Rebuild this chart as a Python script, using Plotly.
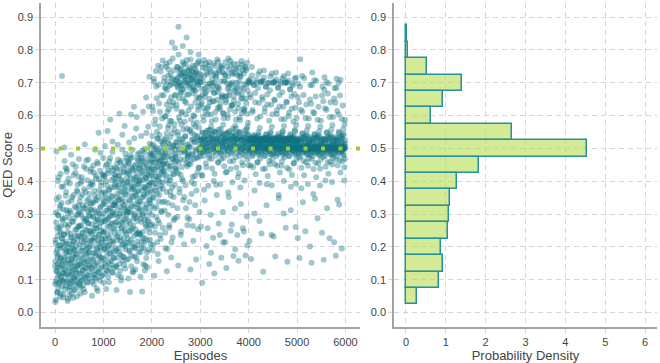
import plotly.graph_objects as go

# ---------------- data ----------------
# QED score per sampled episode, in thousandths, grouped in 250-episode blocks (50 values each).
# Set A: episodes 0, 5, 10, ...
qed_blocks_a = [
    "142 032 221 305 094 182 491 125 258 061 171 401 138 296 204 088 352 113 247 156 318 048 195 423 163 264 101 334 226 721 097 281 147 213 384 055 119 238 503 168 289 131 209 441 082 191 367 312 396 437",
    "117 244 035 303 159 199 408 078 268 134 311 052 186 089 229 152 481 096 341 207 166 277 122 452 044 216 173 358 104 193 288 141 068 235 426 108 178 319 127 253 372 091 222 389 145 299 261 414 326 468",
    "206 084 338 148 263 057 394 118 231 297 171 412 188 099 359 242 129 316 071 445 214 154 279 512 106 223 368 137 286 463 179 327 093 251 403 162 197 308 112 272 346 143 383 185 293 218 429 246 331 437",
    "313 133 241 051 398 203 292 158 448 336 086 228 371 115 257 496 181 344 102 417 266 307 146 192 459 284 066 219 353 124 548 237 406 174 301 198 432 109 322 249 386 167 211 364 139 276 421 224 329 471",
    "245 091 337 416 196 278 507 149 363 226 399 072 311 187 452 128 285 553 234 425 108 345 205 371 461 262 136 294 588 179 319 443 217 157 356 382 271 489 303 121 434 211 328 408 166 254 298 391 332 419",
    "326 143 409 194 069 351 453 231 291 511 114 386 267 343 418 183 606 302 436 127 368 219 462 098 276 401 256 334 542 158 393 207 317 444 169 283 427 243 379 362 134 484 201 309 471 238 297 397 321 431",
    "398 226 313 104 454 279 518 186 421 339 063 469 251 305 603 141 384 356 212 437 495 122 322 378 264 406 627 171 296 446 199 364 131 413 288 561 239 429 348 156 391 205 482 331 463 244 372 402 318 441",
    "403 241 312 109 456 286 538 197 426 351 064 471 228 303 612 147 383 359 213 441 499 128 321 377 268 411 655 166 294 448 184 367 138 418 277 566 256 433 342 389 718 514 221 333 463 487 374 396 479 437",
    "422 297 538 189 456 614 478 349 712 407 112 497 262 436 588 371 503 392 689 322 468 551 214 443 529 281 752 414 157 484 637 358 399 567 236 462 734 309 521 386 662 429 491 336 449 768 378 512 473 418",
    "703 431 527 311 687 461 197 597 489 749 403 546 126 678 454 612 334 518 722 394 571 258 643 477 763 412 369 534 695 447 168 583 502 823 381 629 229 711 467 509 352 738 421 558 287 661 483 439 496 472",
    "697 433 621 508 713 291 748 549 684 143 871 457 594 702 365 528 741 486 667 419 691 247 608 572 726 406 679 519 812 342 652 757 494 208 733 466 581 707 537 388 719 318 638 501 769 561 446 266 471 479",
    "699 452 616 504 722 284 744 552 683 131 794 463 588 709 361 527 736 483 668 414 688 219 601 574 716 392 677 520 541 327 641 753 491 162 729 470 579 703 533 428 694 254 628 498 766 563 441 511 655 476",
    "701 527 486 262 724 503 639 529 091 417 510 702 548 477 584 718 531 493 341 683 526 514 668 455 759 501 203 537 489 622 726 528 506 386 697 556 481 148 651 518 741 533 497 298 603 567 468 522 542 439",
    "699 528 487 228 725 502 644 530 119 423 512 700 551 478 588 721 532 495 358 686 526 516 671 459 764 499 271 539 491 626 732 527 508 391 703 559 483 167 657 519 746 535 505 306 609 572 471 523 545 446",
    "704 529 488 214 723 503 647 530 136 428 511 698 549 479 593 719 531 492 352 688 526 515 673 461 767 500 249 538 484 631 731 527 507 397 701 561 496 172 659 517 743 534 521 317 612 569 473 524 543 442",
    "700 530 486 236 722 501 636 532 158 424 509 702 547 476 586 717 533 490 331 684 526 513 666 458 756 498 257 536 482 619 728 528 504 402 696 554 494 174 652 516 738 529 520 293 606 566 466 524 541 449",
    "701 527 484 218 502 709 529 494 655 512 163 526 499 748 530 476 617 519 443 528 504 694 541 488 302 531 514 669 497 421 525 506 700 533 491 591 522 457 536 501 726 549 480 638 509 395 562 517 469 524",
    "702 528 485 241 503 706 530 495 649 513 124 525 500 737 529 477 611 518 438 527 505 688 543 489 327 532 511 664 498 416 526 507 699 534 492 584 521 452 537 501 719 551 481 633 510 388 566 516 466 523",
    "700 529 483 232 502 703 531 493 646 512 171 525 499 731 528 476 605 517 447 527 505 686 545 487 348 532 510 662 496 427 526 508 697 535 490 589 520 461 539 500 714 553 479 627 503 401 568 515 472 524",
    "699 528 486 258 501 701 530 494 641 511 155 525 499 728 529 478 598 516 436 527 504 681 544 489 312 531 509 658 497 419 526 506 692 533 492 582 522 455 538 500 712 556 482 624 502 393 571 514 467 519",
    "500 529 485 227 501 698 502 494 641 509 166 526 499 772 531 477 618 518 441 500 503 721 546 488 336 533 507 663 496 418 528 501 502 536 491 592 521 458 540 498 504 555 481 512 505 392 568 515 469 523",
    "500 529 484 201 501 693 502 493 636 508 152 525 499 731 530 476 611 517 437 500 503 708 544 487 347 532 506 658 495 412 527 501 502 535 490 587 520 454 539 497 504 552 480 511 500 387 566 514 466 524",
    "500 528 486 243 501 689 502 494 644 507 161 526 499 717 530 477 622 516 444 500 503 702 548 489 318 533 505 667 496 423 527 501 502 537 492 596 519 459 542 498 504 557 482 510 500 398 571 513 471 522",
    "500 529 483 214 501 684 502 493 639 508 173 525 499 712 531 476 614 517 448 500 503 699 551 487 329 534 506 661 495 427 527 501 502 538 490 589 521 461 543 497 504 559 479 511 500 402 573 514 468 524",
]
# Set B: episodes 2, 7, 12, ...
qed_blocks_b = [
    "087 156 212 039 274 128 345 102 191 063 233 149 298 074 176 412 118 259 091 205 137 327 058 168 244 109 383 143 226 081 286 121 199 046 314 159 097 237 133 462 071 183 268 115 356 151 216 093 429 187",
    "173 098 261 042 336 147 209 112 288 067 184 393 126 241 079 305 162 116 229 058 351 138 196 094 277 153 418 107 218 071 189 323 132 252 085 444 166 203 121 297 049 177 368 141 235 103 264 158 311 089",
    "231 119 304 076 188 352 142 267 098 215 401 164 243 127 326 083 198 287 151 376 109 229 062 317 176 254 135 438 193 281 114 209 341 157 272 091 237 466 183 298 124 361 202 146 249 104 313 171 392 221",
    "268 137 333 094 219 389 161 294 117 247 426 182 312 143 357 106 228 279 174 408 129 256 073 341 197 283 153 453 211 302 121 236 372 169 261 097 318 487 189 274 134 397 224 158 291 112 347 205 419 243",
    "302 163 367 118 248 414 193 331 142 281 447 214 349 171 386 126 263 311 202 432 154 289 092 376 229 318 181 471 246 338 147 271 403 196 296 123 353 521 219 306 166 423 257 184 327 137 381 238 441 274",
    "336 188 397 139 276 437 221 362 167 312 466 243 381 196 416 148 293 344 229 456 176 321 108 404 258 349 207 497 273 367 171 301 428 224 327 146 384 568 251 338 193 448 286 212 358 161 411 266 463 305",
    "371 212 426 163 307 458 248 391 189 343 479 272 408 221 441 173 324 376 256 472 201 352 126 433 287 381 234 531 302 397 196 331 451 252 356 168 413 596 279 367 217 468 316 239 389 184 437 296 486 338",
    "398 237 448 184 336 471 276 418 214 372 493 298 432 246 461 197 353 404 283 486 226 381 143 455 316 409 262 547 331 423 221 361 468 281 386 191 439 628 307 396 243 482 344 267 416 207 458 324 509 368",
    "441 268 627 352 483 206 512 394 703 427 317 469 574 243 458 381 736 414 291 497 653 362 446 532 178 406 488 694 338 459 272 541 421 612 376 464 224 502 437 748 306 473 591 396 452 258 519 434 662 478",
    "452 716 338 597 486 243 682 531 419 758 367 634 503 193 703 474 562 298 741 446 619 514 266 691 437 584 402 727 356 656 492 214 712 468 546 327 774 423 641 507 281 698 459 573 389 806 478 663 517 441",
    "706 461 633 522 748 318 689 541 716 424 786 497 652 731 377 584 699 467 724 236 671 512 743 443 612 694 528 763 401 718 557 681 492 729 352 644 708 536 487 756 603 701 455 838 664 511 737 289 692 478",
    "718 486 664 512 739 337 697 558 726 452 771 503 628 714 398 547 708 481 752 264 683 527 731 468 598 701 519 744 416 723 566 676 497 735 372 657 712 538 473 761 617 694 442 786 652 524 728 306 705 491",
    "712 503 634 526 758 419 681 547 663 512 746 488 597 623 532 374 769 521 656 497 745 548 612 672 506 443 731 554 688 516 257 604 492 628 752 539 471 763 518 641 697 557 508 734 182 679 544 583 711 499",
    "643 527 691 514 759 401 668 552 671 506 751 493 611 730 549 389 716 518 648 501 771 531 624 687 497 456 737 558 682 521 236 619 486 637 748 546 468 752 512 654 662 541 503 731 214 606 519 592 709 494",
    "727 522 659 531 763 427 640 544 658 509 749 496 603 682 547 366 774 524 661 503 739 553 619 698 511 437 754 529 694 537 268 631 489 633 726 548 462 758 513 646 676 536 506 729 193 683 561 587 742 501",
    "671 529 686 518 757 412 622 549 667 504 746 491 594 729 551 381 721 526 651 498 766 527 608 653 508 449 739 532 681 514 247 614 494 622 749 545 477 744 511 639 693 559 502 761 204 676 543 578 706 496",
    "526 703 512 488 531 664 503 529 448 701 519 527 496 722 534 507 611 524 481 529 501 693 538 516 372 528 505 641 493 527 511 709 499 532 523 458 526 502 684 517 541 486 529 503 279 735 521 508 597 525",
    "527 701 514 491 530 657 501 528 437 704 521 526 494 716 533 506 623 525 478 531 502 688 542 513 391 529 503 634 497 526 509 700 492 531 522 462 527 504 677 518 546 483 528 505 236 728 520 510 604 524",
    "528 699 509 485 532 649 502 527 452 702 518 529 497 711 535 505 616 523 483 530 500 684 537 514 358 527 506 628 491 528 512 703 498 533 524 447 525 501 671 519 549 487 530 502 302 721 522 507 589 526",
    "525 702 511 487 529 642 504 530 441 700 517 528 495 707 532 503 609 526 476 527 499 679 539 515 383 530 502 621 496 529 510 698 493 534 521 455 526 505 666 516 552 484 527 500 261 716 523 509 593 524",
    "501 523 497 656 500 512 486 502 531 472 500 499 688 504 518 493 501 379 526 500 503 612 498 545 501 507 462 502 500 714 489 515 501 503 248 529 500 496 634 502 508 483 501 538 500 447 499 505 591 502",
    "500 521 498 649 501 514 484 503 533 468 500 497 693 502 516 491 500 361 528 501 504 607 499 542 500 509 456 501 502 706 487 513 500 504 287 531 501 495 627 500 506 481 502 536 499 438 500 503 584 501",
    "502 519 496 661 500 511 488 501 529 474 501 498 679 503 520 494 500 402 527 500 502 618 497 549 501 506 459 500 503 698 485 517 502 501 226 532 500 493 641 501 507 479 500 534 502 451 498 504 596 500",
    "500 524 499 652 502 513 487 500 535 466 500 496 684 501 517 492 503 344 525 500 501 603 498 547 500 508 464 502 501 709 490 514 500 502 195 530 501 497 631 500 505 482 501 540 500 443 499 506 587 503",
]
qed_scores_a = [int(v) / 1000 for block in qed_blocks_a for v in block.split()]
qed_scores_b = [int(v) / 1000 for block in qed_blocks_b for v in block.split()]
episodes_a = list(range(0, 6000, 5))
episodes_b = list(range(2, 6000, 5))
episodes = episodes_a + episodes_b
qed_scores = qed_scores_a + qed_scores_b

# Histogram of QED score (bin centres, bin width 0.05) and probability density
hist_bin_centers = [0.05, 0.10, 0.15, 0.20, 0.25, 0.30, 0.35, 0.40, 0.45,
                    0.50, 0.55, 0.60, 0.65, 0.70, 0.75, 0.80, 0.85]
hist_density = [0.27, 0.83, 0.94, 0.89, 1.06, 1.07, 1.11, 1.29, 1.84,
                4.55, 2.65, 0.62, 0.92, 1.41, 0.52, 0.06, 0.02]
hist_bin_width = 0.05

reference_qed = 0.5

x_ticks = [0, 1000, 2000, 3000, 4000, 5000, 6000]
density_ticks = [0, 1, 2, 3, 4, 5, 6]
qed_ticks = [0.0, 0.1, 0.2, 0.3, 0.4, 0.5, 0.6, 0.7, 0.8, 0.9]

# ---------------- figure ----------------
W, H = 660, 363
FONT = "Liberation Sans, Arial, Helvetica, sans-serif"
TEAL = "rgba(14,115,131,0.4)"
GREEN = "#9acd32"
GRID = "#d6d6d6"
AXIS = "#a3a3a3"

fig = go.Figure()
fig.add_trace(go.Scatter(
    x=episodes, y=qed_scores, mode="markers",
    marker=dict(size=6, color=TEAL, line=dict(width=0)),
    xaxis="x", yaxis="y", showlegend=False, hoverinfo="skip"))

fig.add_trace(go.Bar(
    y=hist_bin_centers, x=hist_density, orientation="h", width=hist_bin_width,
    marker=dict(color="rgba(181,220,80,0.6)", line=dict(color="#26909b", width=1.5)),
    xaxis="x2", yaxis="y2", showlegend=False, hoverinfo="skip"))

fig.add_shape(type="line", xref="x domain", yref="y", x0=0, x1=1,
              y0=reference_qed, y1=reference_qed,
              line=dict(color=GREEN, width=4, dash="4px,13.5px"), layer="above")

common_axis = dict(
    showline=True, linecolor=AXIS, linewidth=1.5, mirror=False,
    showgrid=True, gridcolor=GRID, gridwidth=1, griddash="5px,4px",
    zeroline=False, ticks="outside", ticklen=4, tickcolor=GRID,
    tickfont=dict(family=FONT, size=11, color="#444"),
    automargin=False)

ydom = [36 / H, 360 / H]
fig.update_layout(
    width=W, height=H,
    margin=dict(l=0, r=0, t=0, b=0),
    paper_bgcolor="white", plot_bgcolor="white",
    font=dict(family=FONT, color="#444"),
    bargap=0,
    xaxis=dict(domain=[41 / W, 360 / W], range=[-290, 6300], tickvals=x_ticks,
               title=dict(text="Episodes", font=dict(size=13, color="#444"), standoff=6),
               anchor="y", **common_axis),
    yaxis=dict(domain=ydom, range=[-0.044, 0.943], tickvals=qed_ticks, tickformat=".1f",
               title=dict(text="QED Score", font=dict(size=13, color="#444"), standoff=8),
               anchor="x", **common_axis),
    xaxis2=dict(domain=[394 / W, 657 / W], range=[-0.3, 6.3], tickvals=density_ticks,
                title=dict(text="Probability Density", font=dict(size=13, color="#444"), standoff=6),
                anchor="y2", **common_axis),
    yaxis2=dict(domain=ydom, range=[-0.044, 0.943], tickvals=qed_ticks, tickformat=".1f",
                anchor="x2", **common_axis),
)

fig.write_html("out.html")
